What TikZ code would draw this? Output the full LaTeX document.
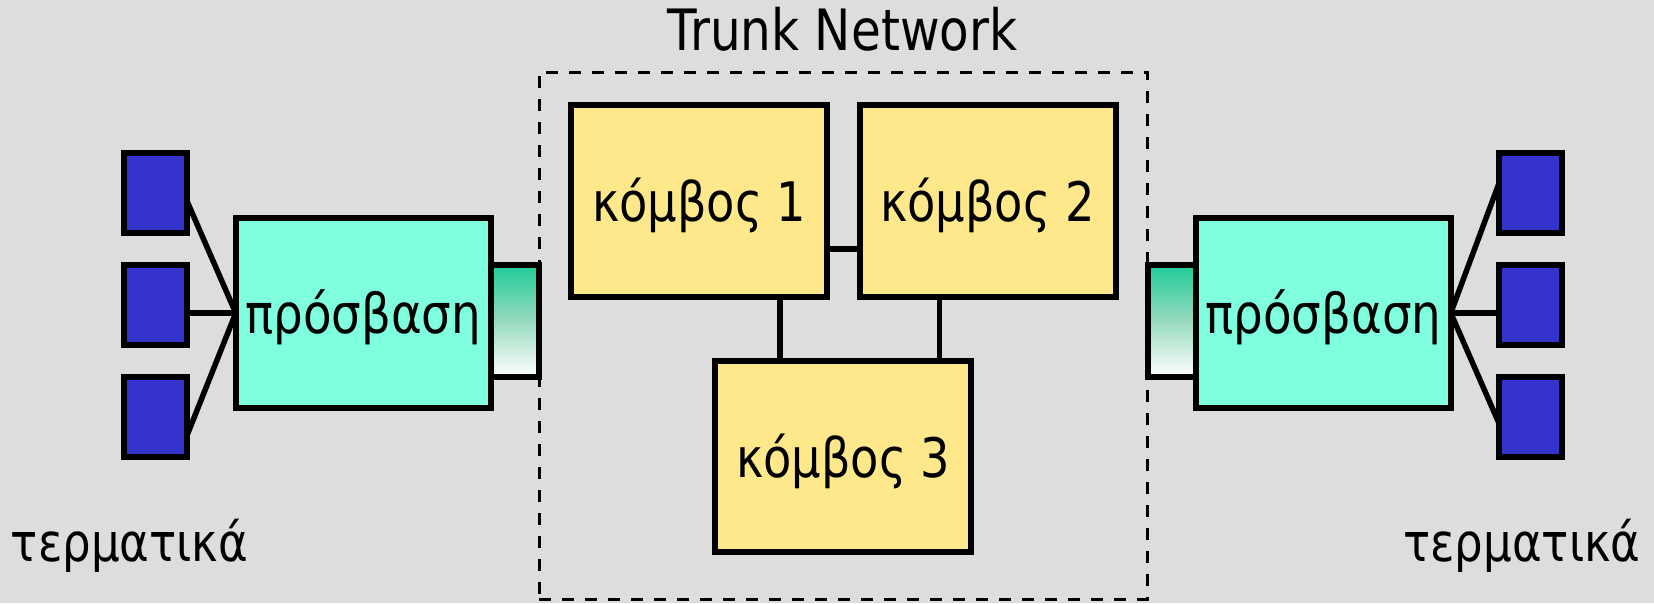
\documentclass[tikz,border=0pt]{standalone}
\usepackage{fontspec}
\setmainfont{DejaVu Sans}[FakeStretch=0.85]

\definecolor{bg}{RGB}{221,221,221}
\definecolor{termblue}{RGB}{51,51,204}
\definecolor{accessgreen}{RGB}{128,255,222}
\definecolor{nodeyellow}{RGB}{255,231,140}
\definecolor{portgreen}{RGB}{32,204,153}
\definecolor{portmid}{RGB}{150,218,190}

\begin{document}
\begin{tikzpicture}[x=1pt,y=-1pt,
  box/.style={draw=black, line width=6pt, inner sep=0pt, outer sep=0pt,
    text height=42pt, text depth=0pt, align=center},
  terminal/.style={draw=black, line width=6pt, fill=termblue,
    minimum width=63pt, minimum height=80pt, inner sep=0pt, outer sep=0pt},
  access/.style={box, fill=accessgreen, minimum width=255pt, minimum height=190pt,
    text height=40pt, font=\fontsize{55}{60}\selectfont},
  trunknode/.style={box, fill=nodeyellow, minimum width=256pt, minimum height=191.5pt,
    font=\fontsize{54.5}{60}\selectfont},
  port/.style={draw=black, line width=6pt, top color=portgreen, bottom color=white,
    middle color=portmid, minimum width=48pt, minimum height=111.5pt,
    inner sep=0pt, outer sep=0pt},
  group/.style={draw=black, line width=3pt, dash pattern=on 12pt off 11pt,
    inner sep=0pt, outer sep=0pt},
  wire/.style={line width=5.5pt},
  tagtext/.style={inner sep=0pt, anchor=base}
]
  % canvas
  \fill[bg] (0,0) rectangle (1654,603);
  \useasboundingbox (0,0) rectangle (1654,603);

  % trunk network frame and title
  \node[group, minimum width=608.3pt, minimum height=527pt] (trunk) at (843.15,335.5) {};
  \node[tagtext, font=\fontsize{57}{60}\selectfont] (title) at (842.5,50) {Trunk Network};

  % ports between access and trunk
  \node[port] (portl) at (514.75,321) {};
  \node[port] (portr) at (1171.75,321) {};

  % access nodes
  \node[access] (accl) at (363.25,313) {πρόσβαση};
  \node[access] (accr) at (1323.25,313) {πρόσβαση};

  % terminals
  \node[terminal] (tl1) at (155,192.8) {};
  \node[terminal] (tl2) at (155,304.7) {};
  \node[terminal] (tl3) at (155,416.7) {};
  \node[terminal] (tr1) at (1530.5,192.8) {};
  \node[terminal] (tr2) at (1530.5,304.7) {};
  \node[terminal] (tr3) at (1530.5,416.7) {};

  % terminal wiring
  \draw[wire] ([yshift=-7.2pt]tl1.east) -- (accl.west);
  \draw[wire] (accl.west) -- (accl.west -| tl2.east);
  \draw[wire] ([yshift=-20pt]tl3.east) -- (accl.west);
  \draw[wire] ([yshift=9.5pt]tr1.west) -- (accr.east);
  \draw[wire] (accr.east) -- (accr.east -| tr2.west);
  \draw[wire] ([yshift=-6.6pt]tr3.west) -- (accr.east);

  % trunk nodes
  \node[trunknode] (k1) at (699.25,200.75) {κόμβος 1};
  \node[trunknode] (k2) at (987.5,200.75) {κόμβος 2};
  \node[trunknode] (k3) at (843.25,456.5) {κόμβος 3};

  % trunk links
  \draw[wire] ([yshift=-48.25pt]k1.east) -- ([yshift=-48.25pt]k2.west);
  \draw[wire] ([xshift=80.75pt]k1.south) -- ([xshift=80.75pt]k1.south |- k3.north);
  \draw[wire] ([xshift=-48pt]k2.south) -- ([xshift=-48pt]k2.south |- k3.north);

  % terminal captions
  \node[tagtext, font=\fontsize{53}{60}\selectfont] (terml) at (129.5,561.7) {τερματικά};
  \node[tagtext, font=\fontsize{53}{60}\selectfont] (termr) at (1522,561.7) {τερματικά};
\end{tikzpicture}
\end{document}
